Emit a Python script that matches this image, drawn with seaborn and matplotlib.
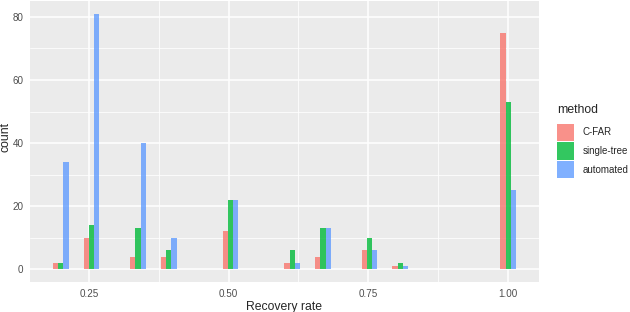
import numpy as np
import pandas as pd
import matplotlib
matplotlib.use("Agg")
import matplotlib.pyplot as plt
import seaborn as sns

# recovery rates (distinct values) and counts per method
rates = [1/5, 1/4, 1/3, 2/5, 1/2, 3/5, 2/3, 3/4, 4/5, 1.0]
cfar = [2, 10, 4, 4, 12, 2, 4, 6, 1, 75]
single_tree = [2, 14, 13, 6, 22, 6, 13, 10, 2, 53]
automated = [34, 81, 40, 10, 22, 2, 13, 6, 1, 25]

methods = ["C-FAR", "single-tree", "automated"]
colors = ["#F8766D", "#00BA38", "#619CFF"]

df = pd.concat([
    pd.DataFrame({"rate": rates, "count": vals, "method": m})
    for m, vals in zip(methods, [cfar, single_tree, automated])
], ignore_index=True)

# ggplot-like binning: 30 bins, centred on the min value
lo, hi = min(rates), max(rates)
w = (hi - lo) / 29
brange = (lo - w / 2 - 1e-9, hi + w / 2 - 1e-9)

sns.set_theme(style="darkgrid", rc={
    "axes.facecolor": "#EBEBEB",
    "grid.color": "white",
})
plt.rcParams["font.family"] = ["Liberation Sans", "DejaVu Sans"]

fig = plt.figure(figsize=(6.3, 3.12), dpi=100)
ax = fig.add_axes([30 / 630, 30 / 312, 509 / 630, 281 / 312])

sns.histplot(data=df, x="rate", weights="count", hue="method",
             hue_order=methods, palette=colors, bins=30, binrange=brange,
             multiple="dodge", shrink=1, alpha=0.8, linewidth=0, ax=ax)

span = (hi + w / 2) - (lo - w / 2)
ax.set_xlim(lo - w / 2 - 0.05 * span, hi + w / 2 + 0.05 * span)
ax.set_ylim(-0.05 * 81, 81 * 1.05)

ax.set_xticks([0.25, 0.50, 0.75, 1.00])
ax.set_xticklabels(["0.25", "0.50", "0.75", "1.00"])
ax.set_yticks([0, 20, 40, 60, 80])
ax.set_xticks([0.375, 0.625, 0.875], minor=True)
ax.set_yticks([10, 30, 50, 70], minor=True)
ax.grid(which="major", color="white", linewidth=1.1)
ax.grid(which="minor", color="white", linewidth=0.55)
ax.tick_params(which="major", length=2.7, width=0.8, color="#333333",
               labelsize=7.1, labelcolor="#4D4D4D", pad=2)
ax.tick_params(which="minor", length=0)
for s in ax.spines.values():
    s.set_visible(False)

ax.set_xlabel("Recovery rate", fontsize=8.8, labelpad=2)
ax.set_ylabel("count", fontsize=8.8)
ax.yaxis.set_label_coords(-18.5 / 509, 0.515)

sns.move_legend(ax, "upper left",
                bbox_to_anchor=((557 - 30) / 509, (282 - 104) / 281),
                frameon=False, title="method", fontsize=7.0,
                title_fontsize=8.8, handlelength=1.78, handleheight=2.36,
                labelspacing=0.15, handletextpad=0.85, borderpad=0,
                borderaxespad=0, alignment="left")
leg = ax.get_legend()
leg._legend_box.sep = 5.5

fig.savefig("out.png", dpi=100)
